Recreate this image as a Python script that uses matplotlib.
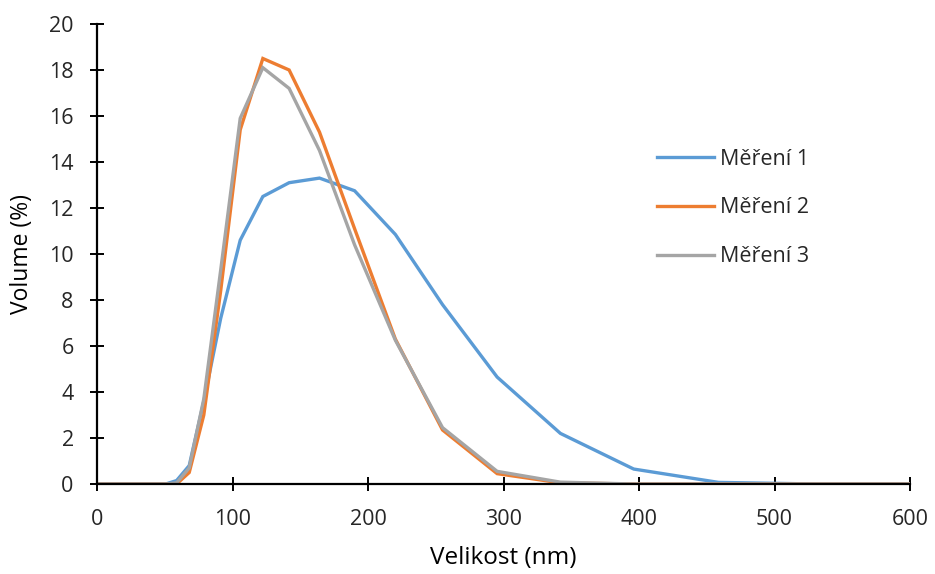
import matplotlib
matplotlib.use("Agg")
import matplotlib.pyplot as plt

# DLS size bins (nm) and volume distributions (%)
size_nm = [0.4, 10.1, 21.04, 32.67, 43.82, 50.75, 58.77, 68.06, 78.82, 91.28,
           105.7, 122.4, 141.8, 164.2, 190.1, 220.2, 255.0, 295.3, 342.0,
           396.1, 458.7, 531.2, 615.1]
mereni_1 = [0, 0, 0, 0, 0, 0, 0.15, 0.8, 3.6, 7.2, 10.6, 12.5, 13.1, 13.3,
            12.75, 10.85, 7.8, 4.65, 2.2, 0.65, 0.07, 0, 0]
mereni_2 = [0, 0, 0, 0, 0, 0, 0, 0.5, 3.0, 8.4, 15.4, 18.5, 18.0, 15.3,
            11.1, 6.3, 2.35, 0.45, 0.05, 0, 0, 0, 0]
mereni_3 = [0, 0, 0, 0, 0, 0, 0.05, 0.7, 3.7, 9.3, 15.9, 18.1, 17.2, 14.5,
            10.4, 6.25, 2.45, 0.55, 0.08, 0, 0, 0, 0]

labels = ["Měření 1", "Měření 2", "Měření 3"]
colors = ["#5B9BD5", "#ED7D31", "#A5A5A5"]
x_ticks = [0, 100, 200, 300, 400, 500, 600]
y_ticks = list(range(0, 21, 2))

plt.rcParams["font.family"] = ["Open Sans", "DejaVu Sans"]
plt.rcParams["font.size"] = 15.5
plt.rcParams["text.color"] = "#262626"

fig = plt.figure(figsize=(9.35, 5.74), dpi=100)
ax = fig.add_axes([97 / 935, 1 - 484 / 574, 813 / 935, 460 / 574])

for series, label, color in zip([mereni_1, mereni_2, mereni_3], labels, colors):
    ax.plot(size_nm, series, color=color, linewidth=2.4, label=label,
            solid_joinstyle="miter")

ax.set_xlim(0, 600)
ax.set_ylim(0, 20)
ax.set_xticks(x_ticks)
ax.set_yticks(y_ticks)

for side in ("top", "right"):
    ax.spines[side].set_visible(False)
for side in ("left", "bottom"):
    ax.spines[side].set_linewidth(1.6)
    ax.spines[side].set_color("black")

ax.tick_params(axis="both", direction="inout", length=10.5, width=1.4,
               color="black", labelsize=15.5, labelcolor="#262626")
ax.tick_params(axis="y", pad=11.5)
ax.tick_params(axis="x", pad=12.5)

ax.set_xlabel("Velikost (nm)", fontsize=17.5)
ax.set_ylabel("Volume (%)", fontsize=16.5)
ax.xaxis.set_label_coords(0.5, -0.135)
ax.yaxis.set_label_coords(-0.078, 0.5)

ax.legend(loc="center left", bbox_to_anchor=(657 / 935, 1 - 208 / 574),
          bbox_transform=fig.transFigure, frameon=False, borderpad=0,
          borderaxespad=0, handlelength=2.65, handletextpad=0.28,
          labelspacing=1.28, fontsize=15.5)

fig.savefig("out.png", dpi=100)
plt.close(fig)
